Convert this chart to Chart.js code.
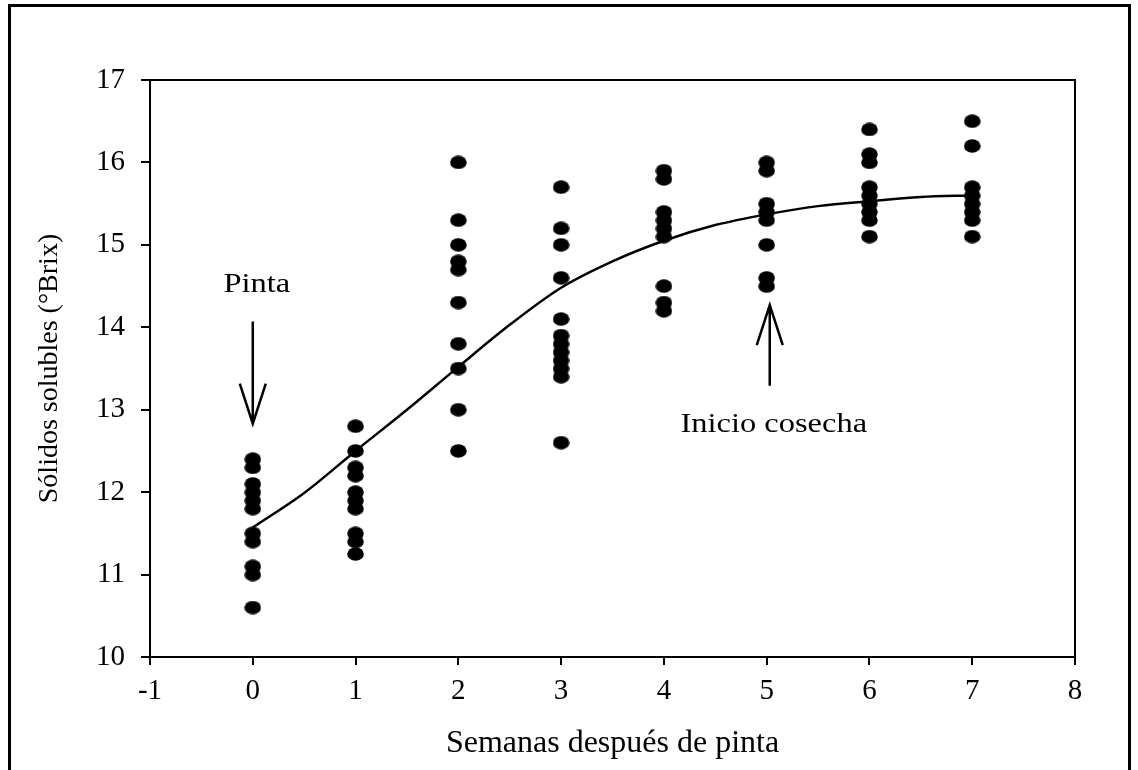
<!DOCTYPE html>
<html>
<head>
<meta charset="utf-8">
<script src="https://cdn.jsdelivr.net/npm/chart.js@4"></script>
<style>
  html, body { margin: 0; padding: 0; background: #fff; }
  #wrap { width: 1138px; height: 770px; }
</style>
</head>
<body>
<div id="wrap"><canvas id="myChart" width="1138" height="770"></canvas></div>
<script>
// weeks after veraison and the measured soluble solids at each week
const weeks = [0, 1, 2, 3, 4, 5, 6, 7];
const week0 = [12.4, 12.3, 12.1, 12.0, 11.9, 11.8, 11.5, 11.4, 11.1, 11.0, 10.6];
const week1 = [12.8, 12.5, 12.3, 12.2, 12.0, 11.9, 11.8, 11.5, 11.4, 11.25];
const week2 = [16.0, 15.3, 15.0, 14.8, 14.7, 14.3, 13.8, 13.5, 13.0, 12.5];
const week3 = [15.7, 15.2, 15.0, 14.6, 14.1, 13.9, 13.8, 13.7, 13.6, 13.5, 13.4, 12.6];
const week4 = [15.9, 15.8, 15.4, 15.3, 15.2, 15.1, 14.5, 14.3, 14.2];
const week5 = [16.0, 15.9, 15.5, 15.4, 15.3, 15.0, 14.6, 14.5];
const week6 = [16.4, 16.1, 16.0, 15.7, 15.6, 15.5, 15.4, 15.3, 15.1];
const week7 = [16.5, 16.2, 15.7, 15.6, 15.5, 15.4, 15.3, 15.1];
const weekValues = [week0, week1, week2, week3, week4, week5, week6, week7];

// fitted curve
const curveX = [0, 0.5, 1, 1.5, 2, 2.5, 3, 3.5, 4, 4.5, 5, 5.5, 6, 6.5, 7];
const curveY = [11.57, 11.99, 12.5, 13.0, 13.52, 14.03, 14.48, 14.8, 15.05, 15.24, 15.37, 15.47, 15.53, 15.58, 15.6];

// annotations: label text, arrow x, arrow tail y, arrow tip y, label baseline y
const noteText = ['Pinta', 'Inicio cosecha'];
const noteX = [0, 5.03];
const noteFrom = [14.07, 13.29];
const noteTo = [12.83, 14.27];
const noteLabelY = [14.43, 12.73];

const points = [];
weeks.forEach((w, i) => {
  weekValues[i].forEach(v => points.push({ x: w, y: v }));
});
const curve = curveX.map((x, i) => ({ x: x, y: curveY[i] }));

// elliptical marker like the original
const dot = document.createElement('canvas');
dot.width = 17;
dot.height = 14;
const dctx = dot.getContext('2d');
dctx.fillStyle = '#000';
dctx.beginPath();
dctx.ellipse(8.5, 7, 8.3, 6.8, 0, 0, Math.PI * 2);
dctx.fill();

const FONT = '"Liberation Serif", "Times New Roman", serif';
const STRETCH = 1.16; // the original picture is widened a little

const extras = {
  id: 'extras',
  afterDraw: (chart) => {
    const ctx = chart.ctx;
    const xs = chart.scales.x;
    const ys = chart.scales.y;
    const a = chart.chartArea;
    ctx.save();
    // outer frame
    ctx.strokeStyle = '#000';
    ctx.lineWidth = 3;
    ctx.strokeRect(9.5, 5.5, 1120, 800);
    // top and right sides of the plot box
    ctx.lineWidth = 2;
    ctx.beginPath();
    ctx.moveTo(a.left, a.top);
    ctx.lineTo(a.right, a.top);
    ctx.lineTo(a.right, a.bottom);
    ctx.stroke();
    // arrows and labels
    ctx.lineWidth = 2.5;
    ctx.fillStyle = '#000';
    ctx.font = '28px ' + FONT;
    ctx.textAlign = 'center';
    ctx.textBaseline = 'alphabetic';
    noteText.forEach((t, i) => {
      const px = xs.getPixelForValue(noteX[i]);
      const y0 = ys.getPixelForValue(noteFrom[i]);
      const y1 = ys.getPixelForValue(noteTo[i]);
      const dir = y1 > y0 ? -1 : 1;
      ctx.beginPath();
      ctx.moveTo(px, y0);
      ctx.lineTo(px, y1);
      ctx.moveTo(px - 13, y1 + dir * 40);
      ctx.lineTo(px, y1);
      ctx.lineTo(px + 13, y1 + dir * 40);
      ctx.stroke();
      ctx.save();
      ctx.translate(px + 4, ys.getPixelForValue(noteLabelY[i]));
      ctx.scale(STRETCH, 1);
      ctx.fillText(t, 0, 0);
      ctx.restore();
    });
    ctx.restore();
  }
};

new Chart(document.getElementById('myChart'), {
  type: 'scatter',
  data: {
    datasets: [
      {
        label: 'datos',
        data: points,
        pointStyle: dot,
        pointRadius: 8,
        pointHoverRadius: 8,
        showLine: false,
      },
      {
        label: 'ajuste',
        data: curve,
        showLine: true,
        borderColor: '#000',
        borderWidth: 2.5,
        pointRadius: 0,
        pointHoverRadius: 0,
        cubicInterpolationMode: 'monotone',
        fill: false,
      },
    ],
  },
  plugins: [extras],
  options: {
    responsive: false,
    animation: false,
    layout: {
      padding: { left: 30, right: 63, top: 80, bottom: 0 },
    },
    plugins: {
      legend: { display: false },
      tooltip: { enabled: false },
    },
    scales: {
      x: {
        type: 'linear',
        min: -1,
        max: 8,
        afterFit: (scale) => { scale.height = 113; },
        ticks: {
          stepSize: 1,
          color: '#000',
          padding: 9,
          font: { family: FONT, size: 29 },
        },
        grid: {
          display: true,
          drawOnChartArea: false,
          drawTicks: true,
          tickLength: 8,
          color: '#000',
          lineWidth: 2,
        },
        border: { display: true, color: '#000', width: 2 },
        title: {
          display: true,
          text: 'Semanas después de pinta',
          color: '#000',
          padding: { top: 0, bottom: 7 },
          font: { family: FONT, size: 32 },
        },
      },
      y: {
        type: 'linear',
        min: 10,
        max: 17,
        afterFit: (scale) => { scale.width = 120; },
        ticks: {
          stepSize: 1,
          color: '#000',
          padding: 16,
          font: { family: FONT, size: 29 },
        },
        grid: {
          display: true,
          drawOnChartArea: false,
          drawTicks: true,
          tickLength: 9,
          color: '#000',
          lineWidth: 2,
        },
        border: { display: true, color: '#000', width: 2 },
        title: {
          display: true,
          text: 'Sólidos solubles (°Brix)',
          color: '#000',
          padding: { top: 3, bottom: 0 },
          font: { family: FONT, size: 28 },
        },
      },
    },
  },
});
</script>
</body>
</html>
